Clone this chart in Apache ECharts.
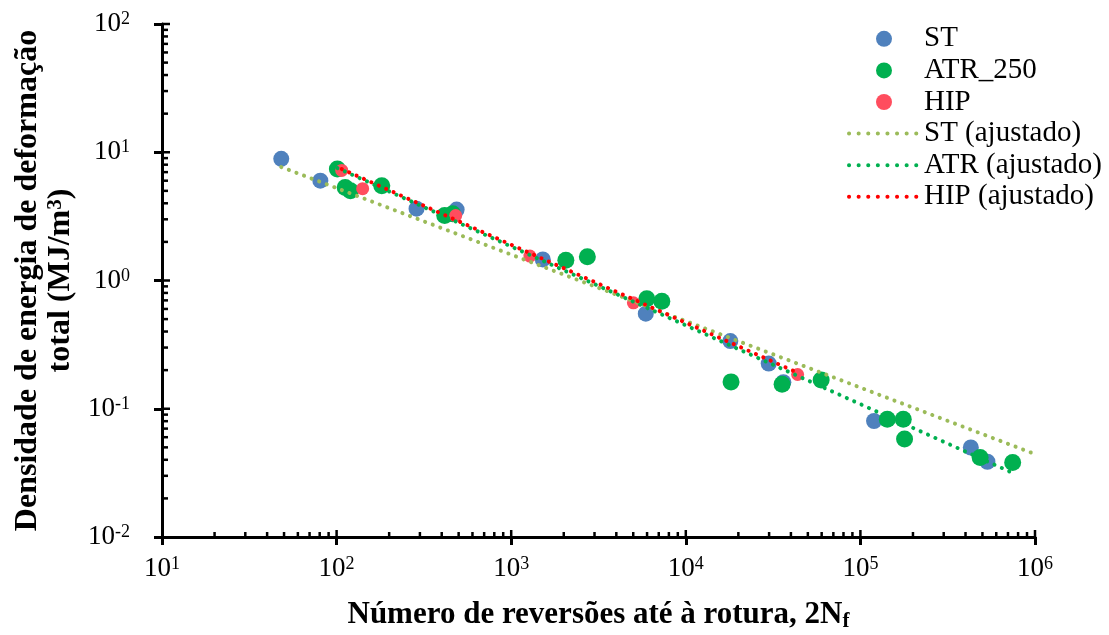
<!DOCTYPE html>
<html><head><meta charset="utf-8">
<script src="https://cdn.jsdelivr.net/npm/echarts@6/dist/echarts.min.js"></script>
<style>html,body{margin:0;padding:0;background:#fff}#c{width:1109px;height:635px}</style>
</head><body><div id="c"></div>
<script>
// Data (x = 2Nf, y = MJ/m^3)
const stData = [[48.2,8.89],[80.7,6.0],[287,3.63],[487,3.57],[1517,1.46],[5900,0.551],[17990,0.337],[29850,0.225],[36200,0.161],[119700,0.0803],[429000,0.0499],[534000,0.0386]];
const atrData = [[101,7.40],[112,5.30],[120,5.01],[181.5,5.48],[416,3.21],[462,3.32],[2056,1.44],[2730,1.53],[5980,0.720],[7290,0.690],[18160,0.162],[35600,0.155],[59600,0.1675],[142600,0.0828],[176000,0.0828],[179000,0.058],[485000,0.0417],[745000,0.0381]];
const hipData = [[107,7.21],[141,5.20],[481,3.21],[1280,1.55],[5010,0.670],[43700,0.185]];
// Fitted lines (endpoints)
const stFit = [[48.2,7.67],[1000000,0.0443]];
const atrFit = [[101,7.53],[745000,0.0316]];
const hipFit = [[107,7.40],[43700,0.191]];
const xRange = [10, 1000000];
const yRange = [0.01, 100];

const FONT = 'Liberation Serif';
const xMinor = [], yMinor = [];
for (let e = 1; e < 6; e++) for (let m = 2; m <= 10; m++) xMinor.push([m * Math.pow(10, e), yRange[0], m === 10 ? 7 : 5]);
for (let e = -2; e < 2; e++) for (let m = 2; m <= 10; m++) yMinor.push([xRange[0], m * Math.pow(10, e), m === 10 ? 8 : 6]);

const supLabel = v => '{b|10}{s|' + Math.round(Math.log10(v)) + '}';
const labelRich = { b: { fontSize: 27, fontFamily: FONT, color: '#000' }, s: { fontSize: 18, fontFamily: FONT, color: '#000', padding: [0, 0, 9, 0] } };

const dotted = (color) => ({ color: color, width: 4, type: [0.1, 8], cap: 'round' });
const legLine = (color) => ({ color: color, width: 4, type: [0.1, 9.5], cap: 'round' });
const noSym = { opacity: 0 };

const chart = echarts.init(document.getElementById('c'), null, { renderer: 'canvas' });
chart.setOption({
  animation: false,
  backgroundColor: '#fff',
  grid: { left: 162, right: 74, top: 24, bottom: 98, containLabel: false, outerBoundsMode: 'none' },
  legend: {
    orient: 'vertical', left: 842, top: 18, itemWidth: 70, itemHeight: 16, itemGap: 0,
    textStyle: { fontFamily: FONT, fontSize: 29, color: '#000', lineHeight: 31.6 },
    data: ['ST', 'ATR_250', 'HIP',
      { name: 'ST (ajustado)', itemStyle: noSym, lineStyle: legLine('#9BBB59') },
      { name: 'ATR (ajustado)', itemStyle: noSym, lineStyle: legLine('#00B050') },
      { name: 'HIP (ajustado)', itemStyle: noSym, lineStyle: legLine('#FF0000') }]
  },
  xAxis: {
    type: 'log', min: xRange[0], max: xRange[1], logBase: 10, splitNumber: 5,
    axisLine: { lineStyle: { color: '#000', width: 3 } },
    axisTick: { show: true, inside: false, length: 8, lineStyle: { color: '#000', width: 3 } },
    splitLine: { show: false },
    axisLabel: { formatter: supLabel, rich: labelRich, margin: 18 },
    name: '{a|Número de reversões até à rotura, 2N}{f|f}',
    nameLocation: 'middle', nameGap: 61,
    nameTextStyle: { rich: { a: { fontSize: 31, fontWeight: 'bold', fontFamily: FONT, color: '#000' }, f: { fontSize: 21, fontWeight: 'bold', fontFamily: FONT, color: '#000', padding: [13, 0, 0, 0] } } }
  },
  yAxis: {
    type: 'log', min: yRange[0], max: yRange[1], logBase: 10, splitNumber: 4,
    axisLine: { lineStyle: { color: '#000', width: 3 } },
    axisTick: { show: true, inside: false, length: 8, lineStyle: { color: '#000', width: 3 } },
    splitLine: { show: false },
    axisLabel: { formatter: supLabel, rich: labelRich, margin: 32 },
    name: '{a|Densidade de energia de deformação}\n{a|total (MJ/m}{s|3}{a|)}',
    nameLocation: 'middle', nameGap: 80, nameRotate: 90,
    nameTextStyle: { lineHeight: 33, rich: { a: { fontSize: 32, fontWeight: 'bold', fontFamily: FONT, color: '#000', lineHeight: 33 }, s: { fontSize: 21, fontWeight: 'bold', fontFamily: FONT, color: '#000', padding: [0, 0, 10, 0] } } }
  },
  series: [
    { type: 'custom', silent: true, clip: false, z: 1, data: xMinor,
      renderItem: (p, api) => { const c = api.coord([api.value(0), api.value(1)]); return { type: 'line', shape: { x1: c[0], y1: c[1], x2: c[0], y2: c[1] - api.value(2) }, style: { stroke: '#000', lineWidth: 2.5 } }; } },
    { type: 'custom', silent: true, clip: false, z: 1, data: yMinor,
      renderItem: (p, api) => { const c = api.coord([api.value(0), api.value(1)]); return { type: 'line', shape: { x1: c[0], y1: c[1], x2: c[0] + api.value(2), y2: c[1] }, style: { stroke: '#000', lineWidth: 2.5 } }; } },
    { name: 'ST', type: 'scatter', data: stData, symbolSize: 16, itemStyle: { color: '#4F81BD', opacity: 1 }, z: 2 },
    { name: 'ATR_250', type: 'scatter', data: atrData, symbolSize: 17, itemStyle: { color: '#00B050', opacity: 1 }, z: 2 },
    { name: 'HIP', type: 'scatter', data: hipData, symbolSize: 13, itemStyle: { color: '#FF4D5E', opacity: 1 }, z: 2 },
    { name: 'ST (ajustado)', type: 'line', data: stFit, symbol: 'none', showSymbol: false, lineStyle: dotted('#9BBB59'), itemStyle: { color: '#9BBB59' }, z: 3 },
    { name: 'ATR (ajustado)', type: 'line', data: atrFit, symbol: 'none', showSymbol: false, lineStyle: dotted('#00B050'), itemStyle: { color: '#00B050' }, z: 3 },
    { name: 'HIP (ajustado)', type: 'line', data: hipFit, symbol: 'none', showSymbol: false, lineStyle: dotted('#FF0000'), itemStyle: { color: '#FF0000' }, z: 3 }
  ]
});
</script>
</body></html>
